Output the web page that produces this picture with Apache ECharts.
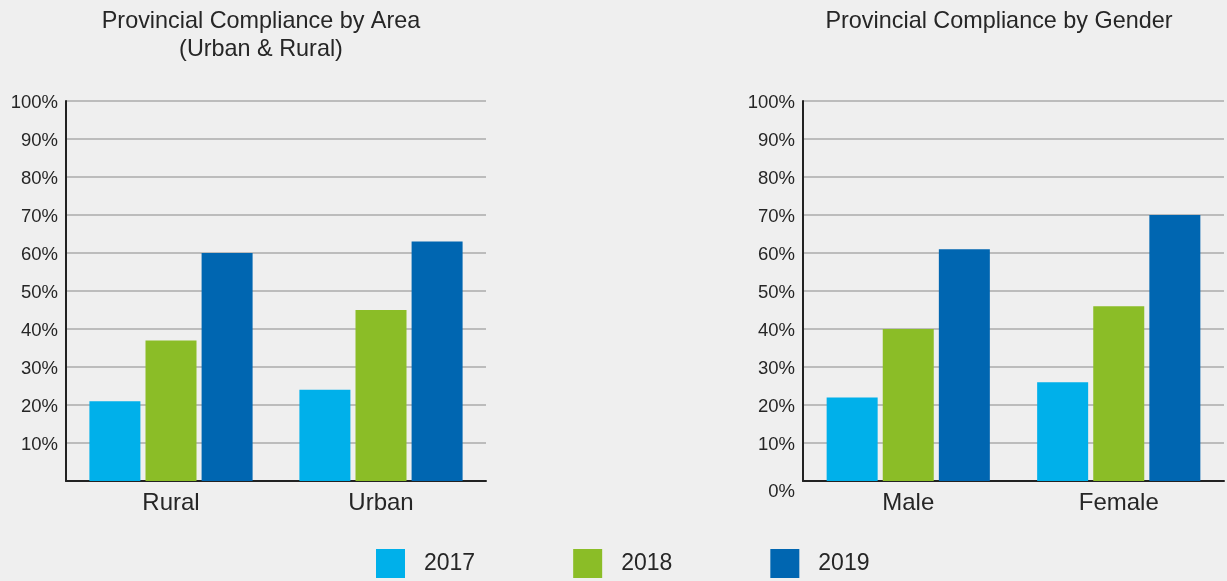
<!DOCTYPE html>
<html>
<head>
<meta charset="utf-8">
<script src="https://cdn.jsdelivr.net/npm/echarts@6/dist/echarts.min.js"></script>
<style>
html,body{margin:0;padding:0;background:#efefef;}
#c{width:1227px;height:581px;}
</style>
</head>
<body>
<div id="c"></div>
<script>
var areaCategories = ['Rural', 'Urban'];
var genderCategories = ['Male', 'Female'];
var years = ['2017', '2018', '2019'];
var area2017 = [21, 24];
var area2018 = [37, 45];
var area2019 = [60, 63];
var gender2017 = [22, 26];
var gender2018 = [40, 46];
var gender2019 = [61, 70];
var yTicks = [0, 10, 20, 30, 40, 50, 60, 70, 80, 90, 100];

var colors = ['#00b0ea', '#8bbd27', '#0066b1'];
var font = 'Liberation Sans, Arial, sans-serif';
var txt = '#262626';

function yAxis(gridIndex, showZero) {
  return {
    type: 'value', gridIndex: gridIndex, min: yTicks[0], max: yTicks[yTicks.length - 1], interval: 10,
    axisLine: { show: true, lineStyle: { color: '#222', width: 2 } },
    axisTick: { show: false },
    splitLine: { show: true, lineStyle: { color: '#ababab', width: 1.5 } },
    axisLabel: {
      fontSize: 18.5, color: txt, fontFamily: font, margin: 8,
      formatter: function (v) {
        if (v === 0) return showZero ? '{z|0%}' : '';
        return '{n|' + v + '%}';
      },
      rich: {
        n: { fontSize: 18.5, color: txt, fontFamily: font, padding: [3, 0, 0, 0] },
        z: { fontSize: 18.5, color: txt, fontFamily: font, padding: [22, 0, 0, 0] }
      }
    }
  };
}
function xAxis(gridIndex, cats) {
  return {
    type: 'category', gridIndex: gridIndex, data: cats,
    axisLine: { show: true, lineStyle: { color: '#222', width: 2 } },
    axisTick: { show: false },
    axisLabel: { fontSize: 24, color: txt, fontFamily: font, margin: 10 }
  };
}
function bar(name, data, idx, color) {
  return {
    name: name, type: 'bar', xAxisIndex: idx, yAxisIndex: idx, data: data,
    barWidth: 51, barGap: '10%', itemStyle: { color: color }, z: 3
  };
}

var chart = echarts.init(document.getElementById('c'));
chart.setOption({
  backgroundColor: '#efefef',
  animation: false,
  title: [
    { text: 'Provincial Compliance by Area\n(Urban & Rural)', left: 256, top: 3, textAlign: 'center',
      textStyle: { fontSize: 23.4, fontWeight: 'normal', color: txt, fontFamily: font, lineHeight: 28 } },
    { text: 'Provincial Compliance by Gender', left: 994, top: 3, textAlign: 'center',
      textStyle: { fontSize: 23.4, fontWeight: 'normal', color: txt, fontFamily: font, lineHeight: 28 } }
  ],
  legend: {
    data: years, left: 376, top: 549, padding: 0, itemGap: 98,
    itemWidth: 29, itemHeight: 29, icon: 'rect',
    textStyle: { fontSize: 23, color: txt, fontFamily: font, padding: [0, 0, 0, 14] }
  },
  grid: [
    { left: 66, right: 741, top: 101, bottom: 100 },
    { left: 803, right: 3, top: 101, bottom: 100 }
  ],
  xAxis: [xAxis(0, areaCategories), xAxis(1, genderCategories)],
  yAxis: [yAxis(0, false), yAxis(1, true)],
  series: [
    bar(years[0], area2017, 0, colors[0]),
    bar(years[1], area2018, 0, colors[1]),
    bar(years[2], area2019, 0, colors[2]),
    bar(years[0], gender2017, 1, colors[0]),
    bar(years[1], gender2018, 1, colors[1]),
    bar(years[2], gender2019, 1, colors[2])
  ]
});
</script>
</body>
</html>
